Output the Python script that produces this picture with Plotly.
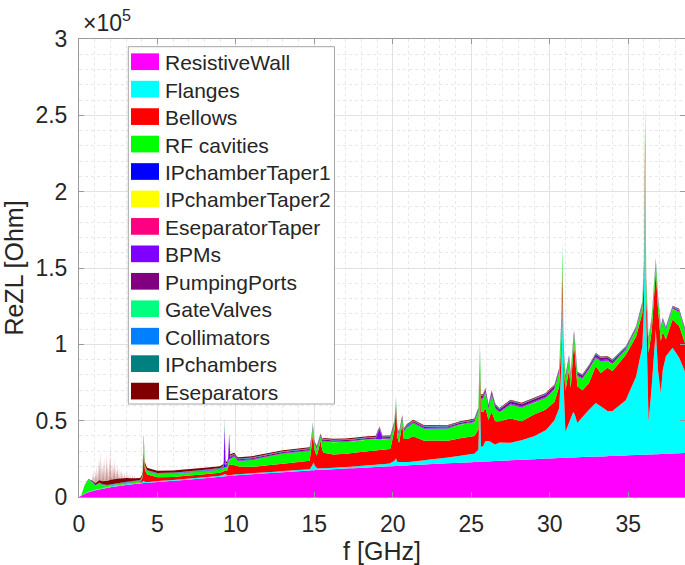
import plotly.graph_objects as go

# Longitudinal impedance budget: real part of Z_L per component, stacked
# Frequencies in GHz, impedance in Ohm

RW_f = [0, 0.5, 1, 2, 3, 4, 5, 6.5, 8, 10, 12.5, 15, 17.5, 20, 22.5, 25, 27.5, 30, 32.5, 35, 37.5, 38.62]
RW_v = [0, 2800, 4300, 6400, 7900, 9000, 9900, 11000, 12300, 14200, 15900, 17600, 18900, 20200, 21600,
        22800, 24000, 25300, 26300, 27300, 28300, 28800]

FL_f = [0, 0.5, 4.0, 4.12, 4.25, 9.0, 9.3, 9.45, 14.7, 14.85, 14.95, 15.05, 15.2, 17.0, 19.8, 20.1, 20.2,
        20.3, 21.0, 22.0, 23.5, 25.2, 25.45, 25.55, 25.62, 25.75, 25.9, 26.2, 26.5, 26.8, 27.5, 28.2, 29.0,
        29.74, 30.3, 30.6, 30.74, 30.8, 30.88, 31.0, 31.2, 31.5, 31.6, 31.76, 32.1, 32.5, 32.93, 33.25, 33.7,
        34.0, 34.85, 35.5, 35.9, 36.0, 36.08, 36.15, 36.3, 36.5, 36.76, 36.9, 37.08, 37.2, 37.4, 37.83, 38.25,
        38.62]
FL_v = [0, 300, 500, 1500, 500, 600, 1500, 600, 800, 3000, 5000, 2500, 1000, 1000, 1800, 3500, 5000,
        2500, 2200, 2800, 3800, 5500, 8000, 46000, 10000, 10000, 13500, 13000, 10800, 12000, 11500, 12800, 15000,
        18500, 24800, 32800, 60000, 104000, 50000, 17000, 22000, 30000, 28000, 22500, 26500, 30800, 35100, 32800, 29400,
        29400, 36300, 51300, 70800, 95000, 197000, 90000, 21500, 45000, 82000, 55000, 40000, 55000, 64000, 69300, 62600,
        53400]

BE_f = [0, 3.9, 4.05, 4.12, 4.2, 4.35, 4.6, 5.0, 6.0, 9.2, 9.45, 9.55, 9.8, 10.2, 11.0, 13.0, 14.7, 14.8,
        14.9, 15.0, 15.15, 15.4, 15.5, 15.6, 16.2, 17.3, 18.4, 19.85, 20.1, 20.2, 20.3, 20.4, 20.6, 20.7, 20.9,
        21.3, 22.0, 23.5, 24.3, 25.2, 25.45, 25.55, 25.62, 25.9, 26.1, 26.3, 26.55, 26.8, 27.5, 28.2, 29.0,
        29.74, 30.3, 30.6, 30.8, 30.9, 31.0, 31.23, 31.34, 31.55, 31.76, 32.08, 32.5, 32.93, 33.25, 33.68, 34.0,
        34.85, 35.48, 35.9, 36.08, 36.15, 36.3, 36.5, 36.76, 36.9, 37.08, 37.2, 37.4, 37.83, 38.25, 38.62]
BE_v = [0, 200, 3000, 19000, 8000, 5000, 4000, 2500, 2000, 2000, 3000, 7000, 6500, 5000, 4200, 4800, 5500, 12000,
        20000, 10000, 8000, 18000, 12000, 10000, 8600, 8800, 9200, 9500, 20000, 34000, 16000, 12500, 25000, 15000, 15000,
        16500, 12800, 11000, 11500, 11500, 13000, 15000, 23000, 21500, 14000, 20000, 15000, 14000, 16000, 12500, 14200,
        13600, 12000, 14000, 20000, 15000, 27000, 35000, 20000, 45000, 24000, 17500, 17500, 24000, 21900, 28400, 26200,
        29600, 26300, 22000, 20000, 15000, 45000, 36000, 38000, 40000, 34000, 25000, 11000, 18500, 20700, 18600]

RF_f = [0, 0.15, 0.35, 0.6, 0.8, 1.05, 1.3, 1.5, 1.8, 2.5, 4.0, 4.12, 4.3, 6.0, 9.2, 9.5, 9.9, 10.1, 11.0,
        13.0, 14.7, 14.9, 15.2, 15.4, 15.6, 16.2, 17.3, 18.4, 19.85, 20.2, 20.4, 20.6, 20.9, 21.3, 22.0, 23.5,
        24.3, 25.2, 25.55, 25.62, 25.9, 26.1, 26.3, 26.55, 26.8, 27.5, 28.2, 29.0, 29.74, 30.3, 30.6, 30.8, 31.0,
        31.55, 31.76, 32.5, 32.93, 33.25, 33.68, 34.0, 34.85, 35.48, 35.9, 36.08, 36.3, 36.76, 37.08, 37.4, 37.83,
        38.25, 38.62]
RF_v = [0, 300, 5000, 7800, 6000, 2500, 3500, 2000, 800, 700, 800, 2500, 2000, 2000, 2000, 2500, 5500, 3500, 4500,
        6500, 6500, 3500, 4000, 2500, 7500, 8000, 7600, 7500, 6500, 2500, 5000, 3500, 7500, 8500, 7700, 8000,
        8700, 9000, 13000, 8000, 10000, 7000, 11000, 8000, 5500, 9000, 8800, 7700, 7600, 8000, 9000, 12000, 7000,
        6000, 6500, 8700, 5500, 7500, 4400, 4400, 3200, 4400, 5000, 10000, 8000, 6000, 7600, 6000, 6700,
        9000, 7600]

T1_f = [0, 9.2, 9.28, 9.36, 38.62]
T1_v = [0, 100, 3000, 100, 100]

T2_f = [0, 38.62]
T2_v = [0, 100]

ET_f = [0, 38.62]
ET_v = [0, 100]

BP_f = [0, 9.0, 9.22, 9.28, 9.34, 9.5, 9.57, 9.64, 10.0, 18.9, 19.15, 19.35, 25.5, 30.0, 38.62]
BP_v = [0, 200, 1000, 24000, 1500, 1500, 15000, 1000, 300, 300, 6500, 400, 400, 600, 600]

PP_f = [0, 9.0, 10.0, 25.0, 25.8, 30.0, 31.0, 34.0, 34.8, 38.62]
PP_v = [0, 200, 700, 700, 1500, 1500, 1200, 1500, 600, 500]

GV_f = [0, 4.05, 4.12, 4.19, 9.2, 9.28, 9.36, 14.85, 14.9, 14.95, 20.15, 20.2, 20.25, 25.5, 25.55, 25.6,
        30.75, 30.8, 30.85, 36.03, 36.08, 36.13, 38.62]
GV_v = [0, 0, 6000, 0, 0, 3000, 0, 0, 1500, 0, 0, 1500, 0, 0, 2000, 0, 0, 3000, 0, 0, 3000, 0, 0]

CO_f = [0, 1, 38.62]
CO_v = [0, 200, 200]

IC_f = [0, 1, 38.62]
IC_v = [0, 300, 400]

# Eseparators: smooth background level ...
ES_f = [0, 0.75, 1.0, 1.5, 2.0, 2.5, 3.0, 3.6, 4.0, 4.12, 4.3, 9.0, 10.0, 15.0, 20.0, 38.62]
ES_v = [0, 300, 1000, 2000, 3000, 3000, 2500, 1500, 1200, 2000, 1500, 1200, 800, 600, 500, 300]
# ... plus the dense comb of narrow resonances between 0.8 and 3.6 GHz
ES_peak_f = [0.86, 0.92, 0.98, 1.03, 1.08, 1.13, 1.18, 1.23, 1.28, 1.33, 1.38, 1.43, 1.48, 1.53, 1.58,
             1.63, 1.68, 1.73, 1.78, 1.83, 1.88, 1.93, 1.98, 2.03, 2.08, 2.13, 2.18, 2.23, 2.28, 2.33,
             2.38, 2.43, 2.48, 2.55, 2.62, 2.70, 2.80, 2.90, 3.00, 3.12, 3.25, 3.40, 3.55]
ES_peak_v = [5000, 8000, 4500, 9000, 6500, 12000, 8000, 14000, 10000, 16000, 21000, 13000, 9000, 15000, 11000,
             17000, 10000, 15000, 19000, 12000, 9000, 16000, 22000, 14000, 10000, 12000, 8000, 11000, 14000, 9000,
             6500, 10000, 6500, 7500, 5000, 6000, 4500, 4000, 4500, 3500, 3000, 2500, 2000]

components = [
    ("ResistiveWall", RW_f, RW_v, "#FF00FF"),
    ("Flanges", FL_f, FL_v, "#00FFFF"),
    ("Bellows", BE_f, BE_v, "#FF0000"),
    ("RF cavities", RF_f, RF_v, "#00FF00"),
    ("IPchamberTaper1", T1_f, T1_v, "#0000FF"),
    ("IPchamberTaper2", T2_f, T2_v, "#FFFF00"),
    ("EseparatorTaper", ET_f, ET_v, "#FF0080"),
    ("BPMs", BP_f, BP_v, "#8000FF"),
    ("PumpingPorts", PP_f, PP_v, "#800080"),
    ("GateValves", GV_f, GV_v, "#00FF80"),
    ("Collimators", CO_f, CO_v, "#0080FF"),
    ("IPchambers", IC_f, IC_v, "#008080"),
    ("Eseparators", ES_f, ES_v, "#800000"),
]

fig = go.Figure()
for name, f, v, col in components:
    fig.add_trace(go.Scatter(
        x=f, y=v, name=name, mode="none", showlegend=False,
        stackgroup="z", stackgaps="interpolate", fillcolor=col,
    ))

# narrow Eseparators resonances, stacked on top of the Eseparators level;
# they are hair-thin, so they render as a faint comb
half_w = 0.016
comb_x, comb_y = [], []
for fc, h in zip(ES_peak_f, ES_peak_v):
    comb_x += [fc - half_w, fc, fc + half_w]
    comb_y += [0, h, 0]
fig.add_trace(go.Scatter(
    x=comb_x, y=comb_y, name="Eseparators", mode="none", showlegend=False,
    stackgroup="z", stackgaps="interpolate", fillcolor="rgba(128,0,0,0.6)",
))

font_family = "Liberation Sans, Arial, Helvetica, sans-serif"
txt = "#262626"
axis_color = "#9a9a9a"

fig.update_xaxes(
    range=[0, 38.62], dtick=5, tick0=0,
    showline=True, linecolor=axis_color, linewidth=1, mirror="ticks",
    ticks="inside", ticklen=5, tickcolor=axis_color,
    showgrid=True, gridcolor="#e2e2e2", gridwidth=1,
    minor=dict(dtick=1, showgrid=True, gridcolor="#e8e8e8", griddash="dot", ticks=""),
    zeroline=False, automargin=False,
    tickfont=dict(size=23, color=txt), ticklabelstandoff=6,
    title=dict(text="f [GHz]", font=dict(size=25, color=txt), standoff=2),
)
fig.update_yaxes(
    range=[0, 300000],
    tickvals=[0, 50000, 100000, 150000, 200000, 250000, 300000],
    ticktext=["0", "0.5", "1", "1.5", "2", "2.5", "3"],
    showline=True, linecolor=axis_color, linewidth=1, mirror="ticks",
    ticks="inside", ticklen=5, tickcolor=axis_color,
    showgrid=True, gridcolor="#e2e2e2", gridwidth=1,
    minor=dict(dtick=10000, showgrid=True, gridcolor="#e8e8e8", griddash="dot", ticks=""),
    zeroline=False, automargin=False,
    tickfont=dict(size=23, color=txt), ticklabelstandoff=6,
    title=dict(text="ReZL [Ohm]", font=dict(size=25, color=txt), standoff=4),
)

# plot-area geometry in pixels, used to place the legend box
L, R, T, B = 79, 685, 39, 497


def px_x(p):
    return (p - L) / (R - L)


def px_y(p):
    return (B - p) / (B - T)


box_l, box_r, box_t, box_b = 128.3, 334.5, 46.7, 404.0
sw_l, sw_r, sw_h = 131.0, 159.0, 16.7
row0, row_step = 61.7, 27.45
text_x = 162.5

shapes = [dict(type="rect", xref="paper", yref="paper",
               x0=px_x(box_l), x1=px_x(box_r), y0=px_y(box_b), y1=px_y(box_t),
               fillcolor="white", line=dict(color="#a6a6a6", width=1), layer="above")]
annotations = []
for i, (name, _, _, col) in enumerate(components):
    cy = row0 + i * row_step
    shapes.append(dict(type="rect", xref="paper", yref="paper",
                       x0=px_x(sw_l), x1=px_x(sw_r),
                       y0=px_y(cy + sw_h / 2), y1=px_y(cy - sw_h / 2),
                       fillcolor=col, line=dict(width=0), layer="above"))
    annotations.append(dict(text=name, x=px_x(text_x), y=px_y(cy + 1), xref="paper", yref="paper",
                            xanchor="left", yanchor="middle", showarrow=False,
                            font=dict(size=21, color=txt)))

annotations.append(dict(
    text="×10<sup>5</sup>", x=px_x(81), y=px_y(38), xref="paper", yref="paper",
    xanchor="left", yanchor="bottom", showarrow=False,
    font=dict(size=23, color=txt),
))

fig.update_layout(
    width=685, height=565,
    margin=dict(l=L, r=685 - R, t=T, b=565 - B),
    paper_bgcolor="white", plot_bgcolor="white",
    font=dict(family=font_family, color=txt),
    showlegend=False,
    shapes=shapes,
    annotations=annotations,
)

fig.write_html("out.html")
